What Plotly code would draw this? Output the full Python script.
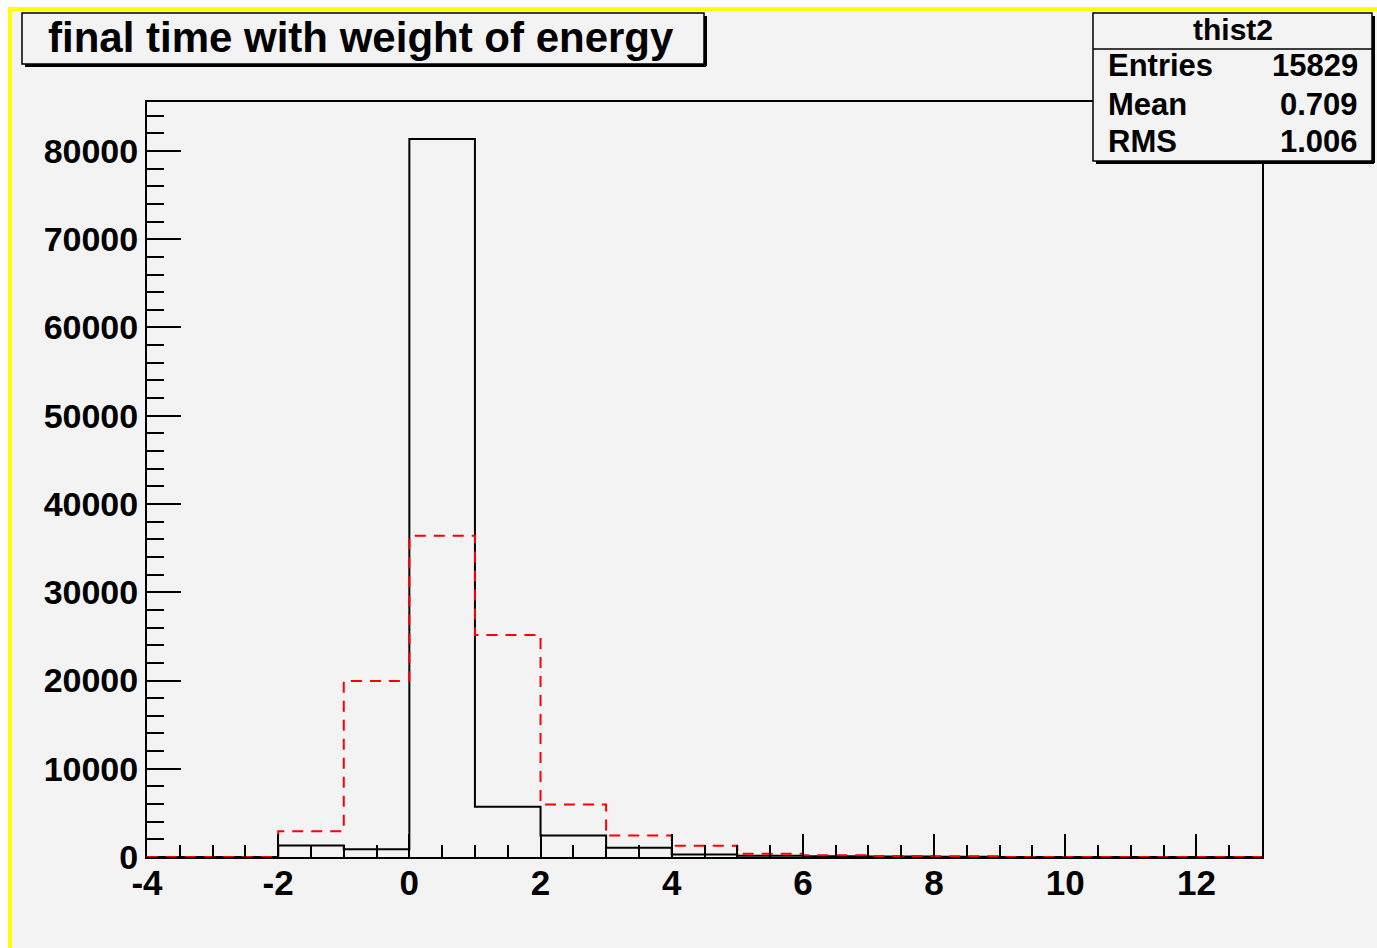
import plotly.graph_objects as go

# ---- data ----
bin_edges = [-4, -3, -2, -1, 0, 1, 2, 3, 4, 5, 6, 7, 8, 9, 10, 11, 12, 13]
black_counts = [0, 0, 1300, 870, 81350, 5700, 2450, 1060, 270, 150, 80, 50, 30, 0, 0, 0, 0]
red_counts = [0, 0, 2920, 19950, 36400, 25150, 5950, 2450, 1280, 360, 200, 120, 90, 0, 0, 0, 0]
x_tick_vals = [-4, -2, 0, 2, 4, 6, 8, 10, 12]
y_tick_vals = [0, 10000, 20000, 30000, 40000, 50000, 60000, 70000, 80000]
title_text = "final time with weight of energy"
stats_name = "thist2"
stats_labels = ["Entries", "Mean", "RMS"]
stats_values = ["15829", "0.709", "1.006"]

W, H = 1377, 948
ML, MR, MT, MB = 147, W - 1262, 102, H - 857
PW, PH = W - ML - MR, H - MT - MB
BG = "#f3f3f3"
FONT = "Liberation Sans"


def px(x):
    return (x - ML) / PW


def py(y):
    return (H - MB - y) / PH


def step(counts):
    xs = list(bin_edges)
    ys = list(counts) + [counts[-1]]
    return xs, ys


fig = go.Figure()
bx, by = step(black_counts)
rx, ry = step(red_counts)
fig.add_trace(go.Scatter(x=bx, y=by, mode="lines", line=dict(color="black", width=2, shape="hv"),
                         showlegend=False, hoverinfo="skip"))
fig.add_trace(go.Scatter(x=rx, y=ry, mode="lines", line=dict(color="#ff0000", width=2, shape="hv", dash="11px,8px"),
                         showlegend=False, hoverinfo="skip"))

shapes = []
annotations = []

# white strips outside the canvas, then yellow border (top & left)
shapes.append(dict(type="rect", xref="paper", yref="paper", x0=px(-5), x1=px(W + 5), y0=py(-5), y1=py(7),
                   line=dict(width=0), fillcolor="white", layer="below"))
shapes.append(dict(type="rect", xref="paper", yref="paper", x0=px(-5), x1=px(8), y0=py(-5), y1=py(H + 5),
                   line=dict(width=0), fillcolor="white", layer="below"))
shapes.append(dict(type="line", xref="paper", yref="paper", x0=px(8), x1=px(W + 5), y0=py(9), y1=py(9),
                   line=dict(color="#ffff00", width=4)))
shapes.append(dict(type="line", xref="paper", yref="paper", x0=px(10), x1=px(10), y0=py(7), y1=py(H + 5),
                   line=dict(color="#ffff00", width=4)))


def box(x0, y0, x1, y1):
    # shadow
    shapes.append(dict(type="line", xref="paper", yref="paper", x0=px(x0 + 3), x1=px(x1 + 2), y0=py(y1 + 1.5),
                       y1=py(y1 + 1.5), line=dict(color="black", width=3)))
    shapes.append(dict(type="line", xref="paper", yref="paper", x0=px(x1 + 1.5), x1=px(x1 + 1.5), y0=py(y0 + 3),
                       y1=py(y1 + 2), line=dict(color="black", width=3)))
    shapes.append(dict(type="rect", xref="paper", yref="paper", x0=px(x0), x1=px(x1), y0=py(y0), y1=py(y1),
                       line=dict(color="black", width=1.5), fillcolor=BG))


# title box
box(22, 13, 704, 64)
annotations.append(dict(text=title_text, xref="paper", yref="paper", x=px(361), y=py(37), showarrow=False,
                        xanchor="center", yanchor="middle",
                        font=dict(family=FONT, size=42, color="black", weight="bold")))

# stats box
box(1093, 13, 1372, 161)
shapes.append(dict(type="line", xref="paper", yref="paper", x0=px(1093), x1=px(1372), y0=py(49), y1=py(49),
                   line=dict(color="black", width=1.5)))
annotations.append(dict(text=stats_name, xref="paper", yref="paper", x=px(1233), y=py(29), showarrow=False,
                        xanchor="center", yanchor="middle",
                        font=dict(family=FONT, size=30, color="black", weight="bold")))
row_y = [66, 104, 141]
for lab, val, yy in zip(stats_labels, stats_values, row_y):
    annotations.append(dict(text=lab, xref="paper", yref="paper", x=px(1106), y=py(yy), showarrow=False,
                            xanchor="left", yanchor="middle",
                            font=dict(family=FONT, size=31, color="black", weight="bold")))
    annotations.append(dict(text=val, xref="paper", yref="paper", x=px(1360), y=py(yy), showarrow=False,
                            xanchor="right", yanchor="middle",
                            font=dict(family=FONT, size=31, color="black", weight="bold")))

fig.update_layout(
    width=W, height=H,
    margin=dict(l=ML, r=MR, t=MT, b=MB, pad=0),
    paper_bgcolor=BG, plot_bgcolor=BG,
    shapes=shapes, annotations=annotations,
    showlegend=False,
)
fig.update_xaxes(range=[-4, 13], tickvals=x_tick_vals, ticktext=[str(v) for v in x_tick_vals],
                 ticks="inside", ticklen=23, tickwidth=2, tickcolor="black", ticklabelstandoff=-6,
                 minor=dict(dtick=0.5, tick0=0, ticks="inside", ticklen=12, tickwidth=2, tickcolor="black", showgrid=False),
                 showline=True, linecolor="black", linewidth=2, mirror=True,
                 showgrid=False, zeroline=False,
                 tickfont=dict(family=FONT, size=35, color="black", weight="bold"))
fig.update_yaxes(range=[0, 85550], tickvals=y_tick_vals, ticktext=[str(v) for v in y_tick_vals],
                 ticks="inside", ticklen=34, tickwidth=2, tickcolor="black",
                 minor=dict(dtick=2000, tick0=0, ticks="inside", ticklen=17, tickwidth=2, tickcolor="black", showgrid=False),
                 showline=True, linecolor="black", linewidth=2, mirror=True,
                 showgrid=False, zeroline=False,
                 tickfont=dict(family=FONT, size=34, color="black", weight="bold"))

fig.write_html("out.html", config={"displayModeBar": False},
               post_script="document.body.style.margin='0px';document.body.style.overflow='hidden';")
